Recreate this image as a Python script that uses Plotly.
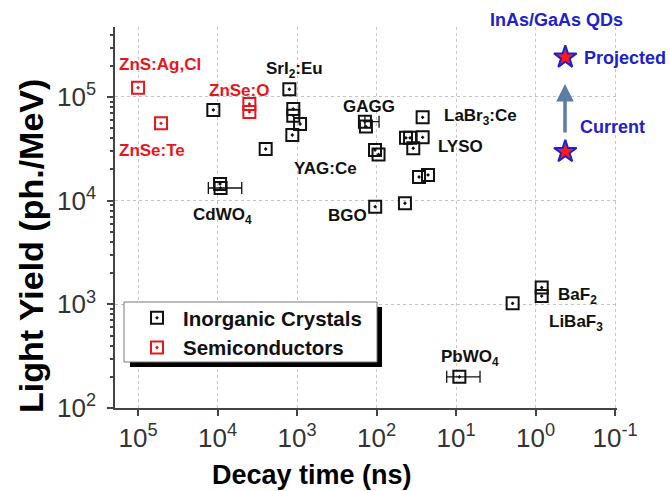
import plotly.graph_objects as go

# ---------------- data ----------------
crystal_decay_ns = [11300, 2480, 9300, 1250, 1115, 1115, 916, 1146, 136, 104.5, 94.4,
                    104, 43.9, 42.6, 37.9, 26.3, 34.5, 26.3, 29.2, 22.5, 1.94, 0.836, 0.836]
crystal_ly = [75000, 31500, 14500, 118700, 76600, 66000, 54900, 43000, 51800, 30800, 27900,
              8750, 9440, 40400, 40400, 40800, 32000, 63700, 16900, 17700, 1023, 1452, 1202]

# crystals drawn with a horizontal decay-time range (CdWO4, GAGG, PbWO4)
crystal_err_decay_ns = [9160, 140, 9.08]
crystal_err_ly = [13250, 57800, 200]
crystal_err_min_ns = [4960, 93, 4.99]
crystal_err_max_ns = [13060, 140, 13.1]

semi_decay_ns = [100000, 51400, 3980, 3980]
semi_ly = [123000, 55700, 85600, 71700]

qd_decay_ns = [0.422, 0.422]
qd_ly = [29700, 242000]

x_tick_vals = [1e5, 1e4, 1e3, 1e2, 1e1, 1e0, 1e-1]
x_tick_text = ["10<sup>5</sup>", "10<sup>4</sup>", "10<sup>3</sup>", "10<sup>2</sup>",
               "10<sup>1</sup>", "10<sup>0</sup>", "10<sup>-1</sup>"]
y_tick_vals = [1e2, 1e3, 1e4, 1e5]
y_tick_text = ["10<sup>2</sup>", "10<sup>3</sup>", "10<sup>4</sup>", "10<sup>5</sup>"]

# ---------------- styling ----------------
FONT = "Liberation Sans, Arial, Helvetica, sans-serif"
BLACK = "#111111"
RED = "#e8161c"
BLUE = "#2020cc"
W, H = 670, 491
L, R, T, B = 115, 53, 27, 83
PW, PH = W - L - R, H - T - B


def px(x):
    return (x - L) / PW


def py(y):
    return (H - B - y) / PH


fig = go.Figure()

fig.add_trace(go.Scatter(
    x=crystal_decay_ns, y=crystal_ly, mode="markers", name="Inorganic Crystals",
    legendgroup="c",
    marker=dict(symbol="square-open-dot", size=12, color=BLACK, line=dict(width=2, color=BLACK)),
))
fig.add_trace(go.Scatter(
    x=crystal_err_decay_ns, y=crystal_err_ly, mode="markers", name="Inorganic Crystals",
    legendgroup="c", showlegend=False,
    marker=dict(symbol="square-open-dot", size=12, color=BLACK, line=dict(width=2, color=BLACK)),
    error_x=dict(type="data", symmetric=False,
                 array=[hi - c for hi, c in zip(crystal_err_max_ns, crystal_err_decay_ns)],
                 arrayminus=[c - lo for lo, c in zip(crystal_err_min_ns, crystal_err_decay_ns)],
                 color=BLACK, thickness=1.3, width=6),
))
fig.add_trace(go.Scatter(
    x=semi_decay_ns, y=semi_ly, mode="markers", name="Semiconductors",
    marker=dict(symbol="square-open-dot", size=12, color=RED, line=dict(width=2, color=RED)),
))
fig.add_trace(go.Scatter(
    x=qd_decay_ns, y=qd_ly, mode="markers", name="InAs/GaAs QDs", showlegend=False,
    marker=dict(symbol="star", size=17, color="#ff1a1a", line=dict(width=2, color=BLUE)),
))

axis_common = dict(
    type="log", showline=True, linecolor="#444444", linewidth=1.5, mirror=False,
    ticks="outside", tickcolor="#444444", tickwidth=1.5,
    showgrid=True, gridcolor="#c4c4c4", gridwidth=1, griddash="dot", zeroline=False,
    tickfont=dict(family=FONT, size=26, color="#333333"), tickmode="array",
)
fig.update_xaxes(range=[5.29, -1.025], tickvals=x_tick_vals, ticktext=x_tick_text,
                 ticklen=6, **axis_common)
fig.update_yaxes(range=[2, 5.675], tickvals=y_tick_vals, ticktext=y_tick_text,
                 ticklen=6, minor=dict(ticks="outside", ticklen=3, dtick="D1",
                                       tickcolor="#444444", showgrid=False),
                 ticklabelstandoff=6, **axis_common)

annotations = []


def label(text, x, y, color=BLACK, size=17, anchor="left"):
    annotations.append(dict(text=text, x=px(x), y=py(y), xref="paper", yref="paper",
                            xanchor=anchor, yanchor="middle", showarrow=False,
                            font=dict(family=FONT, size=size, color=color, weight="bold")))


label("ZnS:Ag,Cl", 117, 64, RED)
label("ZnSe:Te", 117, 150, RED)
label("ZnSe:O", 207, 90, RED)
label("SrI<sub>2</sub>:Eu", 264, 70)
label("GAGG", 341, 106)
label("LaBr<sub>3</sub>:Ce", 442, 117)
label("LYSO", 436, 146)
label("YAG:Ce", 292, 168)
label("CdWO<sub>4</sub>", 191, 216)
label("BGO", 326, 215)
label("BaF<sub>2</sub>", 556, 296)
label("LiBaF<sub>3</sub>", 547, 323)
label("PbWO<sub>4</sub>", 439, 358)
label("InAs/GaAs QDs", 488, 20, BLUE, 18)
label("Projected", 582, 58, BLUE, 18)
label("Current", 578, 127, BLUE, 18)

# arrow from current to projected
annotations.append(dict(x=px(565), y=py(84), xref="paper", yref="paper", ax=0, ay=50,
                        showarrow=True, arrowhead=2, arrowsize=1, arrowwidth=3.5,
                        arrowcolor="#5b7ca6", text=""))

# axis titles
annotations.append(dict(text="Decay time (ns)", x=px(312), y=py(475), xref="paper", yref="paper",
                        xanchor="center", yanchor="middle", showarrow=False,
                        font=dict(family=FONT, size=27, color="#000000", weight="bold")))
annotations.append(dict(text="Light Yield (ph./MeV)", x=px(31), y=py(246), xref="paper",
                        yref="paper", xanchor="center", yanchor="middle", showarrow=False,
                        textangle=-90,
                        font=dict(family=FONT, size=34, color="#000000", weight="bold")))

shapes = [
    dict(type="rect", xref="paper", yref="paper", x0=px(130), x1=px(382), y0=py(367), y1=py(307),
         fillcolor="#000000", line=dict(width=0), layer="above"),
    dict(type="rect", xref="paper", yref="paper", x0=px(124), x1=px(377), y0=py(362), y1=py(302),
         fillcolor="#ffffff", line=dict(width=1, color="#777777"), layer="above"),
]

fig.update_layout(
    width=W, height=H, margin=dict(l=L, r=R, t=T, b=B),
    paper_bgcolor="white", plot_bgcolor="white",
    font=dict(family=FONT),
    showlegend=True,
    legend=dict(x=px(131), y=py(298), xanchor="left", yanchor="top",
                bgcolor="rgba(0,0,0,0)", borderwidth=0,
                font=dict(family=FONT, size=20.5, color="#111111", weight="bold"),
                itemwidth=42, tracegroupgap=0),
    annotations=annotations, shapes=shapes,
)

fig.write_html("out.html")
